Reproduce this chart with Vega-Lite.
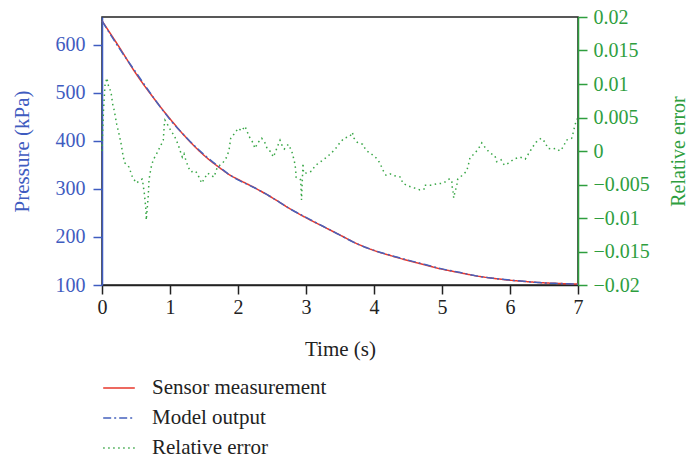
{
  "$schema": "https://vega.github.io/schema/vega-lite/v6.json",
  "width": 476,
  "height": 268,
  "autosize": {"type": "none"},
  "padding": {"left": 102, "top": 17, "right": 112, "bottom": 179},
  "background": "white",
  "config": {
    "font": "Liberation Serif",
    "view": {"stroke": "#222222", "strokeWidth": 1.5},
    "axis": {"grid": false, "labelFont": "Liberation Serif", "titleFont": "Liberation Serif", "titleFontWeight": "normal", "labelFontSize": 20, "titleFontSize": 21, "tickSize": 9, "tickWidth": 1.5, "domainWidth": 1.5, "labelFlush": false},
    "legend": {"orient": "none", "legendX": 0, "legendY": 354, "symbolType": "stroke", "symbolSize": 1000, "symbolStrokeWidth": 1.5, "labelFont": "Liberation Serif", "labelFontSize": 21, "labelColor": "#222222", "labelOffset": 16, "labelLimit": 400, "rowPadding": 3, "title": null}
  },
  "datasets": {
    "pressure": [
      {"t": 0, "sensor": 650, "model": 650},
      {"t": 0.25, "sensor": 596, "model": 593.6},
      {"t": 0.5, "sensor": 540, "model": 542.5},
      {"t": 0.75, "sensor": 491, "model": 491.6},
      {"t": 1.0, "sensor": 446, "model": 444.6},
      {"t": 1.25, "sensor": 405, "model": 405.7},
      {"t": 1.5, "sensor": 370, "model": 371.5},
      {"t": 1.75, "sensor": 342, "model": 342.7},
      {"t": 1.88, "sensor": 329, "model": 329},
      {"t": 2.0, "sensor": 320, "model": 318.9},
      {"t": 2.25, "sensor": 302, "model": 301.9},
      {"t": 2.5, "sensor": 282, "model": 282.1},
      {"t": 2.75, "sensor": 260, "model": 259.7},
      {"t": 3.0, "sensor": 240, "model": 240.8},
      {"t": 3.25, "sensor": 222, "model": 222.3},
      {"t": 3.5, "sensor": 204, "model": 203.8},
      {"t": 3.75, "sensor": 186, "model": 185.8},
      {"t": 4.0, "sensor": 172, "model": 172.1},
      {"t": 4.25, "sensor": 161, "model": 161.5},
      {"t": 4.5, "sensor": 151, "model": 151.8},
      {"t": 4.75, "sensor": 142, "model": 142.7},
      {"t": 5.0, "sensor": 133, "model": 133.6},
      {"t": 5.25, "sensor": 126, "model": 126.5},
      {"t": 5.5, "sensor": 119, "model": 119.0},
      {"t": 5.75, "sensor": 114, "model": 114.1},
      {"t": 6.0, "sensor": 110, "model": 110.2},
      {"t": 6.25, "sensor": 107, "model": 107.1},
      {"t": 6.5, "sensor": 104.5, "model": 104.3},
      {"t": 6.75, "sensor": 103, "model": 103.0},
      {"t": 7.0, "sensor": 102, "model": 101.5}
    ],
    "error": [
      {"t": 0, "err": 0},
      {"t": 0.022, "err": 0.0061},
      {"t": 0.044, "err": 0.0098},
      {"t": 0.072, "err": 0.0109},
      {"t": 0.093, "err": 0.0098},
      {"t": 0.132, "err": 0.0088},
      {"t": 0.157, "err": 0.007},
      {"t": 0.181, "err": 0.006},
      {"t": 0.216, "err": 0.004},
      {"t": 0.24, "err": 0.003},
      {"t": 0.279, "err": 0.0012},
      {"t": 0.313, "err": -0.0009},
      {"t": 0.338, "err": -0.0018},
      {"t": 0.397, "err": -0.0024},
      {"t": 0.451, "err": -0.004},
      {"t": 0.51, "err": -0.0048},
      {"t": 0.559, "err": -0.0043},
      {"t": 0.593, "err": -0.0042},
      {"t": 0.607, "err": -0.0052},
      {"t": 0.622, "err": -0.0063},
      {"t": 0.643, "err": -0.0084},
      {"t": 0.651, "err": -0.0103},
      {"t": 0.681, "err": -0.0066},
      {"t": 0.691, "err": -0.0043},
      {"t": 0.721, "err": -0.0025},
      {"t": 0.754, "err": -0.0013},
      {"t": 0.794, "err": -0.0006},
      {"t": 0.828, "err": 0.0001},
      {"t": 0.868, "err": 0.0009},
      {"t": 0.901, "err": 0.0016},
      {"t": 0.916, "err": 0.0039},
      {"t": 0.926, "err": 0.0046},
      {"t": 0.966, "err": 0.0039},
      {"t": 1.025, "err": 0.0028},
      {"t": 1.059, "err": 0.0024},
      {"t": 1.122, "err": 0.0009},
      {"t": 1.147, "err": 0.0001},
      {"t": 1.181, "err": -0.0009},
      {"t": 1.206, "err": -0.0004},
      {"t": 1.231, "err": -0.0013},
      {"t": 1.269, "err": -0.0024},
      {"t": 1.304, "err": -0.0031},
      {"t": 1.378, "err": -0.003},
      {"t": 1.426, "err": -0.0039},
      {"t": 1.466, "err": -0.0048},
      {"t": 1.554, "err": -0.0033},
      {"t": 1.647, "err": -0.0039},
      {"t": 1.696, "err": -0.0024},
      {"t": 1.775, "err": -0.0018},
      {"t": 1.834, "err": -0.0009},
      {"t": 1.868, "err": 0.0001},
      {"t": 1.893, "err": 0.0019},
      {"t": 1.956, "err": 0.0027},
      {"t": 2.004, "err": 0.0034},
      {"t": 2.054, "err": 0.003},
      {"t": 2.103, "err": 0.0037},
      {"t": 2.162, "err": 0.0022},
      {"t": 2.216, "err": 0.0013},
      {"t": 2.25, "err": 0.0004},
      {"t": 2.29, "err": 0.0012},
      {"t": 2.349, "err": 0.0019},
      {"t": 2.397, "err": 0.0012},
      {"t": 2.431, "err": 0.0003},
      {"t": 2.481, "err": -0.0001},
      {"t": 2.519, "err": -0.0009},
      {"t": 2.544, "err": -0.0003},
      {"t": 2.578, "err": 0.0006},
      {"t": 2.618, "err": 0.0016},
      {"t": 2.657, "err": 0.0006},
      {"t": 2.681, "err": 0.0003},
      {"t": 2.74, "err": 0.001},
      {"t": 2.79, "err": 0.0},
      {"t": 2.813, "err": -0.0009},
      {"t": 2.834, "err": -0.0018},
      {"t": 2.849, "err": -0.0028},
      {"t": 2.853, "err": -0.0039},
      {"t": 2.922, "err": -0.0043},
      {"t": 2.926, "err": -0.0054},
      {"t": 2.934, "err": -0.0073},
      {"t": 2.956, "err": -0.0018},
      {"t": 2.963, "err": -0.0033},
      {"t": 3.0, "err": -0.0033},
      {"t": 3.084, "err": -0.003},
      {"t": 3.132, "err": -0.0022},
      {"t": 3.216, "err": -0.0016},
      {"t": 3.294, "err": -0.001},
      {"t": 3.363, "err": -0.0004},
      {"t": 3.431, "err": 0.0003},
      {"t": 3.496, "err": 0.0012},
      {"t": 3.559, "err": 0.0019},
      {"t": 3.647, "err": 0.0022},
      {"t": 3.681, "err": 0.0028},
      {"t": 3.706, "err": 0.0019},
      {"t": 3.754, "err": 0.0013},
      {"t": 3.834, "err": 0.001},
      {"t": 3.882, "err": 0.0001},
      {"t": 3.956, "err": -0.0004},
      {"t": 4.029, "err": -0.001},
      {"t": 4.088, "err": -0.0018},
      {"t": 4.128, "err": -0.0028},
      {"t": 4.176, "err": -0.0036},
      {"t": 4.235, "err": -0.0034},
      {"t": 4.299, "err": -0.0037},
      {"t": 4.393, "err": -0.0039},
      {"t": 4.422, "err": -0.0048},
      {"t": 4.496, "err": -0.0052},
      {"t": 4.588, "err": -0.0055},
      {"t": 4.676, "err": -0.0058},
      {"t": 4.735, "err": -0.0057},
      {"t": 4.74, "err": -0.0051},
      {"t": 4.834, "err": -0.0051},
      {"t": 4.922, "err": -0.0049},
      {"t": 5.019, "err": -0.0048},
      {"t": 5.103, "err": -0.0042},
      {"t": 5.143, "err": -0.0043},
      {"t": 5.151, "err": -0.0054},
      {"t": 5.166, "err": -0.0063},
      {"t": 5.172, "err": -0.007},
      {"t": 5.191, "err": -0.0061},
      {"t": 5.216, "err": -0.0052},
      {"t": 5.231, "err": -0.0042},
      {"t": 5.29, "err": -0.0037},
      {"t": 5.363, "err": -0.003},
      {"t": 5.387, "err": -0.0021},
      {"t": 5.412, "err": -0.001},
      {"t": 5.475, "err": -0.0004},
      {"t": 5.534, "err": 0.0003},
      {"t": 5.584, "err": 0.0012},
      {"t": 5.643, "err": 0.0004},
      {"t": 5.706, "err": -0.0003},
      {"t": 5.779, "err": -0.0007},
      {"t": 5.804, "err": -0.0016},
      {"t": 5.868, "err": -0.0013},
      {"t": 5.916, "err": -0.0021},
      {"t": 5.981, "err": -0.0018},
      {"t": 6.059, "err": -0.0012},
      {"t": 6.147, "err": -0.0009},
      {"t": 6.225, "err": -0.0012},
      {"t": 6.279, "err": -0.0003},
      {"t": 6.334, "err": 0.0006},
      {"t": 6.382, "err": 0.0013},
      {"t": 6.456, "err": 0.0019},
      {"t": 6.519, "err": 0.0013},
      {"t": 6.554, "err": 0.0004},
      {"t": 6.622, "err": 0.0003},
      {"t": 6.676, "err": 0.0004},
      {"t": 6.735, "err": 0.0},
      {"t": 6.79, "err": 0.0007},
      {"t": 6.824, "err": 0.0016},
      {"t": 6.907, "err": 0.0019},
      {"t": 6.931, "err": 0.0028},
      {"t": 6.956, "err": 0.0039},
      {"t": 6.985, "err": 0.0048}
    ]
  },
  "encoding": {
    "x": {
      "field": "t", "type": "quantitative",
      "scale": {"domain": [0, 7], "nice": false},
      "axis": {"title": "Time (s)", "values": [0, 1, 2, 3, 4, 5, 6, 7], "format": "d", "domainColor": "#222222", "tickColor": "#222222", "labelColor": "#222222", "titleColor": "#222222", "labelPadding": 3, "titlePadding": 21}
    },
    "color": {"scale": {"domain": ["Sensor measurement", "Model output", "Relative error"], "range": ["#e8392d", "#4562bd", "#38a646"]}},
    "strokeDash": {"scale": {"domain": ["Sensor measurement", "Model output", "Relative error"], "range": [[1, 0], [8, 3, 2, 3], [1.5, 3.5]]}}
  },
  "layer": [
    {
      "layer": [
        {
          "data": {"name": "pressure"},
          "mark": {"type": "line", "strokeWidth": 1.5, "interpolate": "monotone"},
          "encoding": {
            "y": {
              "field": "sensor", "type": "quantitative",
              "scale": {"domain": [100, 658], "nice": false, "zero": false},
              "axis": {"title": "Pressure (kPa)", "orient": "left", "values": [100, 200, 300, 400, 500, 600], "domainColor": "#3f5cc0", "tickColor": "#3f5cc0", "labelColor": "#3f5cc0", "titleColor": "#3f5cc0", "labelPadding": 8, "titlePadding": 23}
            },
            "color": {"datum": "Sensor measurement"},
            "strokeDash": {"datum": "Sensor measurement"}
          }
        },
        {
          "data": {"name": "pressure"},
          "mark": {"type": "line", "strokeWidth": 1.5, "interpolate": "monotone"},
          "encoding": {
            "y": {"field": "model", "type": "quantitative", "title": "Pressure (kPa)"},
            "color": {"datum": "Model output"},
            "strokeDash": {"datum": "Model output"}
          }
        }
      ]
    },
    {
      "data": {"name": "error"},
      "mark": {"type": "line", "strokeWidth": 1.5},
      "encoding": {
        "y": {
          "field": "err", "type": "quantitative",
          "scale": {"domain": [-0.02, 0.02], "nice": false, "zero": false},
          "axis": {"title": "Relative error", "orient": "right", "values": [-0.02, -0.015, -0.01, -0.005, 0, 0.005, 0.01, 0.015, 0.02], "format": "~g", "domainColor": "#2e9e3e", "tickColor": "#2e9e3e", "labelColor": "#2e9e3e", "titleColor": "#2e9e3e", "labelPadding": 6, "titlePadding": 39, "titleAngle": 270, "titleFontSize": 20}
        },
        "color": {"datum": "Relative error"},
        "strokeDash": {"datum": "Relative error"}
      }
    }
  ],
  "resolve": {"scale": {"y": "independent"}}
}
